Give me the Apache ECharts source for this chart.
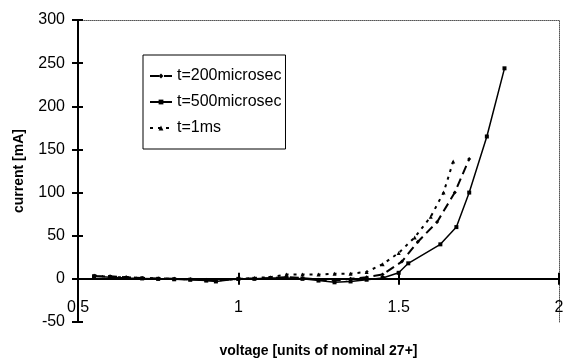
<!DOCTYPE html>
<html>
<head>
<meta charset="utf-8">
<script src="https://cdn.jsdelivr.net/npm/echarts@6/dist/echarts.min.js"></script>
<style>
html,body{margin:0;padding:0;background:#fff;}
#chart_main{width:564px;height:359px;}
</style>
</head>
<body>
<div id="chart_main"></div>
<script type="text/javascript">
// voltage [units of nominal 27+] vs current [mA]
var v200 = [0.55,0.6,0.65,0.7,0.75,0.8,0.85,0.9,0.93,1.0,1.05,1.1,1.15,1.2,1.25,1.3,1.35,1.4,1.45,1.51,1.56,1.62,1.675,1.72];
var c200 = [3,3,2,1,0.5,0,-0.5,-1.5,-2,0,0.5,1,2,1,-1,-2,0,2,5,20,43,66,100,139];
var v500 = [0.55,0.6,0.65,0.7,0.75,0.8,0.85,0.9,0.93,1.0,1.05,1.1,1.15,1.2,1.25,1.3,1.35,1.4,1.45,1.5,1.53,1.63,1.68,1.72,1.775,1.83];
var c500 = [3,2,1,0.5,0,-0.5,-1,-2,-3,0,0,1,1,0,-2,-4,-3,-1,1,7,18,40,60,100,165,244];
var v1ms = [0.55,0.6,0.65,0.7,0.75,0.8,0.85,0.9,0.93,1.0,1.05,1.1,1.15,1.2,1.25,1.3,1.35,1.4,1.45,1.5,1.55,1.6,1.64,1.67];
var c1ms = [4,2,2,1,0.5,0,-0.5,-1,-2,0,1,2,5,5,5,6,6,8,17,30,48,72,100,136];
var xTicks = {min:0.5, max:2, step:0.5};
var yTicks = {min:-50, max:300, step:50};
var names = ['t=200microsec','t=500microsec','t=1ms'];

function pairs(xs, ys){
	var out = [];
	for(var i=0;i<xs.length;i++){ out.push([xs[i], ys[i]]); }
	return out;
}

var myChart = echarts.init(document.getElementById('chart_main'));
var font = 'Liberation Sans, Arial, sans-serif';
var tickStyle = {color:'#000', width:2};
var option = {
	animation:false,
	textStyle:{fontFamily:font},
	grid:{left:78, right:5, top:20, bottom:37, outerBoundsMode:'none', containLabel:false},
	legend:{
		data:names,
		orient:'vertical',
		left:143, top:55,
		padding:[13,4,13,6],
		itemGap:10,
		itemWidth:22, itemHeight:6,
		borderColor:'#000', borderWidth:1,
		backgroundColor:'#fff',
		textStyle:{fontSize:16, color:'#000', fontFamily:font}
	},
	xAxis:[{
		type:'value', min:xTicks.min, max:xTicks.max, interval:xTicks.step,
		position:'bottom',
		axisLine:{onZero:true, onZeroAxisIndex:0, lineStyle:{color:'#000', width:2}},
		axisTick:{show:true, length:6, lineStyle:tickStyle},
		axisLabel:{color:'#000', fontSize:16, margin:-22, fontFamily:font},
		splitLine:{show:false},
		name:'voltage [units of nominal 27+]',
		nameLocation:'middle', nameGap:22,
		nameTextStyle:{fontWeight:'bold', fontSize:14, color:'#000', fontFamily:font}
	},{
		type:'value', min:xTicks.min, max:xTicks.max, interval:xTicks.step,
		position:'top',
		axisLine:{onZero:false, lineStyle:{color:'#555', width:1, type:'dotted'}},
		axisTick:{show:false}, axisLabel:{show:false}, splitLine:{show:false}
	},{
		// inner half of the crossing ticks on the zero line
		type:'value', min:xTicks.min, max:xTicks.max, interval:xTicks.step,
		position:'bottom',
		axisLine:{onZero:true, onZeroAxisIndex:0, lineStyle:{color:'#000', width:2}},
		axisTick:{show:true, inside:true, length:6, lineStyle:tickStyle},
		axisLabel:{show:false}, splitLine:{show:false}
	}],
	yAxis:[{
		type:'value', min:yTicks.min, max:yTicks.max, interval:yTicks.step,
		position:'left',
		axisLine:{show:true, onZero:false, lineStyle:{color:'#000', width:2}},
		axisTick:{show:true, length:6, lineStyle:tickStyle},
		axisLabel:{color:'#000', fontSize:16, margin:13, fontFamily:font},
		splitLine:{show:false},
		name:'current [mA]',
		nameLocation:'middle', nameGap:52,
		nameTextStyle:{fontWeight:'bold', fontSize:14, color:'#000', fontFamily:font}
	},{
		type:'value', min:yTicks.min, max:yTicks.max, interval:yTicks.step,
		position:'right',
		axisLine:{show:true, onZero:false, lineStyle:{color:'#555', width:1, type:'dotted'}},
		axisTick:{show:false}, axisLabel:{show:false}, splitLine:{show:false}
	},{
		type:'value', min:yTicks.min, max:yTicks.max, interval:yTicks.step,
		position:'left',
		axisLine:{show:true, onZero:false, lineStyle:{color:'#000', width:2}},
		axisTick:{show:true, inside:true, length:5, lineStyle:tickStyle},
		axisLabel:{show:false}, splitLine:{show:false}
	}],
	series:[{
		name:names[0], type:'line',
		data:pairs(v200, c200),
		symbol:'diamond', symbolSize:4, showSymbol:true,
		lineStyle:{color:'#000', width:2, type:[9,5]},
		itemStyle:{color:'#000'}
	},{
		name:names[1], type:'line',
		data:pairs(v500, c500),
		symbol:'rect', symbolSize:4, showSymbol:true,
		lineStyle:{color:'#000', width:1.5, type:'solid'},
		itemStyle:{color:'#000'}
	},{
		name:names[2], type:'line',
		data:pairs(v1ms, c1ms),
		symbol:'triangle', symbolSize:4, showSymbol:true,
		lineStyle:{color:'#000', width:2, type:[3,5]},
		itemStyle:{color:'#000'}
	}]
};
myChart.setOption(option);
</script>
</body>
</html>
